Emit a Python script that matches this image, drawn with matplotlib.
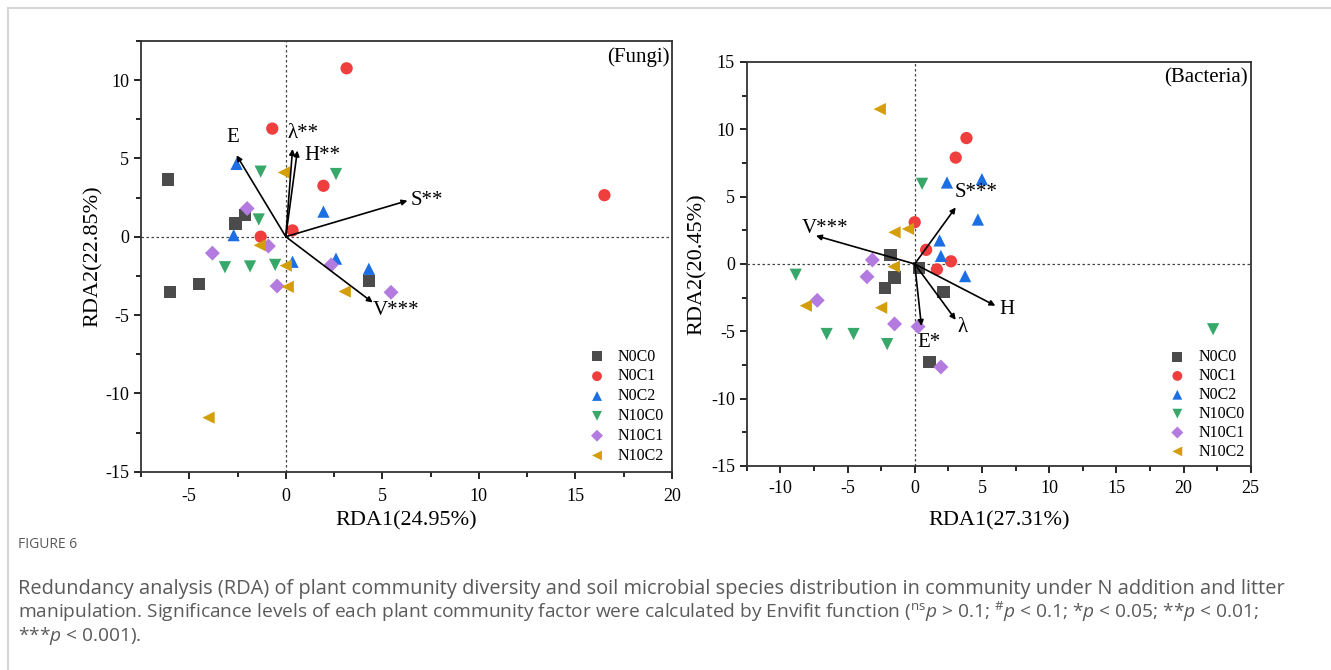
import matplotlib.pyplot as plt
from matplotlib.lines import Line2D

plt.rcParams['font.family'] = ['Liberation Serif', 'DejaVu Serif']
plt.rcParams['axes.unicode_minus'] = False
plt.rcParams['mathtext.fontset'] = 'custom'
plt.rcParams['mathtext.rm'] = 'Open Sans'
plt.rcParams['mathtext.it'] = 'Open Sans:italic'

# =========================================================
# DATA
# =========================================================
groups = ['N0C0', 'N0C1', 'N0C2', 'N10C0', 'N10C1', 'N10C2']
markers = ['s', 'o', '^', 'v', 'D', '<']
colors = ['#4b4b4b', '#ef3e3e', '#1c6fe3', '#38a86a', '#b37ae0', '#d49e08']

# Fungi site scores
fungi_x = {
    'N0C0': [-6.1, -2.6, -2.1, -6.0, -4.5, 4.3],
    'N0C1': [3.15, -0.7, 1.95, 0.35, -1.3, 16.5],
    'N0C2': [-2.55, 1.95, -2.7, 0.35, 2.6, 4.3],
    'N10C0': [-1.3, 2.6, -1.4, -3.15, -1.85, -0.55],
    'N10C1': [-2.0, -0.9, -3.8, 2.35, -0.45, 5.45],
    'N10C2': [-0.1, -1.35, 0.0, 0.1, 3.05, -4.0],
}
fungi_y = {
    'N0C0': [3.65, 0.85, 1.4, -3.55, -3.0, -2.85],
    'N0C1': [10.75, 6.9, 3.25, 0.4, 0.0, 2.65],
    'N0C2': [4.65, 1.6, 0.1, -1.6, -1.4, -2.05],
    'N10C0': [4.15, 4.0, 1.1, -1.95, -1.9, -1.8],
    'N10C1': [1.8, -0.6, -1.05, -1.8, -3.15, -3.55],
    'N10C2': [4.1, -0.55, -1.85, -3.2, -3.5, -11.55],
}
fungi_vec = ['E', 'λ**', 'H**', 'S**', 'V***']
fungi_vx = [-2.55, 0.35, 0.6, 6.3, 4.5]
fungi_vy = [5.2, 5.6, 5.5, 2.3, -4.2]

# Bacteria site scores
bact_x = {
    'N0C0': [-1.8, -1.5, -2.2, 0.3, 2.15, 1.1],
    'N0C1': [3.85, 3.05, 0.0, 0.85, 2.7, 1.65],
    'N0C2': [2.4, 5.0, 4.7, 1.85, 1.95, 3.75],
    'N10C0': [0.55, -8.85, -6.55, -4.55, -2.05, 22.2],
    'N10C1': [-3.15, -3.55, -7.25, -1.5, 0.25, 1.95],
    'N10C2': [-2.6, -1.5, -0.5, -1.55, -8.1, -2.5],
}
bact_y = {
    'N0C0': [0.65, -1.0, -1.8, -0.3, -2.1, -7.3],
    'N0C1': [9.35, 7.9, 3.1, 1.05, 0.2, -0.4],
    'N0C2': [6.05, 6.3, 3.3, 1.75, 0.6, -0.9],
    'N10C0': [5.95, -0.8, -5.2, -5.2, -5.95, -4.85],
    'N10C1': [0.3, -0.95, -2.7, -4.45, -4.65, -7.65],
    'N10C2': [11.5, 2.35, 2.6, -0.2, -3.1, -3.25],
}
bact_vec = ['S***', 'V***', 'H', 'λ', 'E*']
bact_vx = [3.05, -7.35, 6.0, 3.05, 0.5]
bact_vy = [4.2, 2.1, -3.1, -4.15, -4.6]


def draw_panel(ax, xs, ys, vx, vy, xpad, lpad, lspace):
    ax.axhline(0, color='#444444', lw=0.9, ls=(0, (2, 2)), zorder=1)
    ax.axvline(0, color='#444444', lw=0.9, ls=(0, (2, 2)), zorder=1)
    for g, m, c in zip(groups, markers, colors):
        ax.scatter(xs[g], ys[g], marker=m, color=c, s=78 if m != 'D' else 58,
                   edgecolors='none', label=g, zorder=3)
    for x, y in zip(vx, vy):
        ax.annotate('', xy=(x, y), xytext=(0, 0),
                    arrowprops=dict(arrowstyle='-|>', color='black', lw=1.2,
                                    mutation_scale=8, shrinkA=0, shrinkB=0),
                    zorder=4)
    ax.tick_params(direction='out', length=5, width=1.2, labelsize=13,
                   top=False, right=False)
    ax.tick_params(axis='x', pad=xpad)
    ax.tick_params(which='minor', direction='out', length=3.5, width=1.2)
    for sp in ax.spines.values():
        sp.set_linewidth(1.3)
        sp.set_color('#333333')
    ax.legend(loc='lower right', frameon=False, fontsize=11.5,
              handletextpad=0.7, labelspacing=lspace, borderaxespad=lpad,
              handlelength=1.2, markerscale=0.8)


fig = plt.figure(figsize=(13.31, 6.70), dpi=100)

# ---------------- Fungi ----------------
ax1 = fig.add_axes([0.1059, 0.296, 0.399, 0.643])
draw_panel(ax1, fungi_x, fungi_y, fungi_vx, fungi_vy, 7, 0.1, 0.24)
ax1.set_xlim(-7.5, 20)
ax1.set_ylim(-15, 12.5)
ax1.set_xticks([-5, 0, 5, 10, 15, 20])
ax1.set_xticks([-7.5, -2.5, 2.5, 7.5, 12.5, 17.5], minor=True)
ax1.set_yticks([-15, -10, -5, 0, 5, 10])
ax1.set_yticks([-12.5, -7.5, -2.5, 2.5, 7.5, 12.5], minor=True)
ax1.set_xlabel('RDA1(24.95%)', fontsize=16, labelpad=4)
ax1.set_ylabel('RDA2(22.85%)', fontsize=16, labelpad=2)
ax1.text(0.995, 0.985, '(Fungi)', transform=ax1.transAxes, ha='right',
         va='top', fontsize=15)
lab = dict(fontsize=15)
ax1.text(-2.75, 6.3, 'E', ha='center', va='center', **lab)
ax1.text(0.1, 6.6, 'λ**', ha='left', va='center', **lab)
ax1.text(0.95, 5.2, 'H**', ha='left', va='center', **lab)
ax1.text(6.45, 2.3, 'S**', ha='left', va='center', **lab)
ax1.text(4.5, -4.7, 'V***', ha='left', va='center', **lab)

# ---------------- Bacteria ----------------
ax2 = fig.add_axes([0.561, 0.3045, 0.3787, 0.603])
draw_panel(ax2, bact_x, bact_y, bact_vx, bact_vy, 5, 0.0, 0.18)
ax2.set_xlim(-12.5, 25)
ax2.set_ylim(-15, 15)
ax2.set_xticks([-10, -5, 0, 5, 10, 15, 20, 25])
ax2.set_xticks([-12.5, -7.5, -2.5, 2.5, 7.5, 12.5, 17.5, 22.5], minor=True)
ax2.set_yticks([-15, -10, -5, 0, 5, 10, 15])
ax2.set_yticks([-12.5, -7.5, -2.5, 2.5, 7.5, 12.5], minor=True)
ax2.set_xlabel('RDA1(27.31%)', fontsize=16, labelpad=10)
ax2.set_ylabel('RDA2(20.45%)', fontsize=16, labelpad=3)
ax2.text(0.995, 0.985, '(Bacteria)', transform=ax2.transAxes, ha='right',
         va='top', fontsize=15)
ax2.text(3.0, 5.3, 'S***', ha='left', va='center', **lab)
ax2.text(-6.7, 2.6, 'V***', ha='center', va='center', **lab)
ax2.text(6.3, -3.4, 'H', ha='left', va='center', **lab)
ax2.text(3.55, -4.7, 'λ', ha='center', va='center', **lab)
ax2.text(1.1, -5.8, 'E*', ha='center', va='center', **lab)

# ---------------- frame + caption ----------------
W, H = 1331, 670
fig.add_artist(Line2D([8 / W, 8 / W], [0, 1 - 8 / H], color='#d6d6d6', lw=1.5))
fig.add_artist(Line2D([8 / W, 1], [1 - 8 / H, 1 - 8 / H], color='#d6d6d6', lw=1.5))

cap = dict(family=['Open Sans', 'DejaVu Sans'], color='#5a5a5a',
           va='center', ha='left')
fig.text(18 / W, 1 - 545 / H, 'FIGURE 6', fontsize=10, **cap)
fig.text(18 / W, 1 - 589 / H,
         'Redundancy analysis (RDA) of plant community diversity and soil microbial '
         'species distribution in community under N addition and litter',
         fontsize=14.4, **cap)
fig.text(18 / W, 1 - 612 / H,
         'manipulation. Significance levels of each plant community factor were '
         'calculated by Envifit function ($^{\\mathrm{ns}}$$\\it{p}$ > 0.1; '
         '$^{\\#}$$\\it{p}$ < 0.1; *$\\it{p}$ < 0.05; **$\\it{p}$ < 0.01;',
         fontsize=13.8, **cap)
fig.text(18 / W, 1 - 636 / H, '***$\\it{p}$ < 0.001).', fontsize=13.8, **cap)

fig.savefig('out.png', dpi=100)
